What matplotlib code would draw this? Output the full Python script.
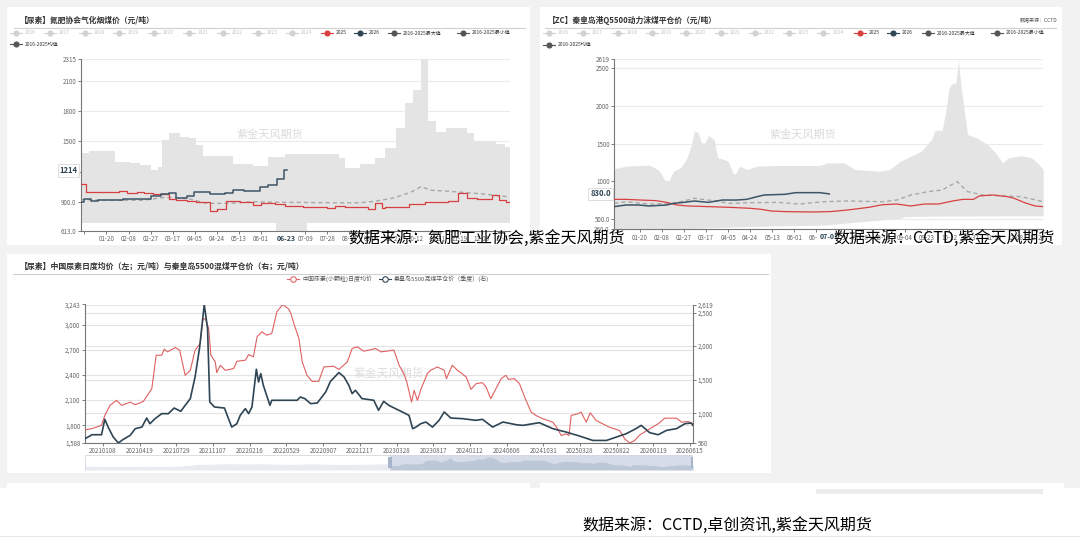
import numpy as np
import matplotlib
matplotlib.use('Agg')
import matplotlib.pyplot as plt
from matplotlib.patches import Rectangle
from matplotlib.lines import Line2D

plt.rcParams['font.family'] = ['Noto Sans CJK SC', 'DejaVu Sans']
plt.rcParams['axes.unicode_minus'] = False

W, H = 1080, 537

# seasonal charts: x is the day index of a leap year (0 = 01-01)
season_tick_pos = [19 * k for k in range(20)]
season_tick_labels = ['', '01-20', '02-08', '02-27', '03-17', '04-05', '04-24', '05-13',
                      '06-01', '06-20', '07-09', '07-28', '08-16', '09-04', '09-23',
                      '10-12', '10-31', '11-19', '12-08', '12-27']
season_years = ['2016', '2017', '2018', '2019', '2020', '2021', '2022', '2023', '2024']

# ---- top left: 氮肥协会气化烟煤价 (step series) ----
tl_band_day = [-3, 4, 26, 39, 48, 57, 63, 67, 73, 82, 90, 96, 102, 128, 145, 158, 165, 173,
               192, 219, 224, 237, 250, 259, 268, 276, 283, 290, 296, 303, 311, 329, 335, 354, 362, 366]
tl_max = [1388, 1408, 1299, 1289, 1266, 1216, 1249, 1514, 1587, 1547, 1531, 1464, 1355, 1276,
          1256, 1342, 1342, 1375, 1375, 1332, 1233, 1276, 1332, 1438, 1630, 1885, 2010, 2315,
          1706, 1597, 1630, 1587, 1507, 1474, 1448, 1448]
tl_min = [693] * 16 + [613, 613] + [693] * 18
tl_avg_day = [-3, 20, 50, 70, 90, 105, 125, 145, 170, 190, 220, 237, 250, 265, 280, 290, 298, 313, 343, 366]
tl_avg = [922, 915, 915, 945, 930, 885, 885, 900, 895, 893, 890, 890, 905, 935, 990, 1051, 1015, 1005, 978, 948]
tl_2025_day = [-3, 1, 30, 37, 45, 51, 59, 73, 79, 88, 96, 108, 114, 122, 134, 145, 152, 164, 173,
               188, 209, 216, 224, 244, 250, 256, 259, 279, 293, 313, 322, 329, 338, 351, 357, 363, 366]
tl_2025 = [1074, 994, 1008, 984, 1001, 984, 974, 928, 918, 908, 895, 812, 828, 911, 898, 868, 891,
           878, 859, 852, 842, 862, 852, 825, 885, 835, 845, 878, 902, 908, 984, 938, 931, 964, 918, 898, 898]
tl_2026_day = [-3, 0, 6, 12, 33, 57, 66, 73, 79, 88, 94, 108, 121, 128, 137, 151, 158, 166, 172, 174]
tl_2026 = [902, 925, 905, 915, 928, 958, 978, 991, 935, 958, 994, 974, 991, 1017, 1008, 1044,
           1067, 1127, 1214, 1214]
tl_yticks = [613, 900, 1200, 1500, 1800, 2100, 2315]
tl_ylabels = ['613.0', '900.0', '', '1500', '1800', '2100', '2315']

# ---- top right: 秦皇岛港Q5500动力沫煤平仓价 ----
tr_band_day = [-3, 7, 27, 32, 36, 41, 44, 48, 54, 59, 63, 66, 69, 72, 75, 78, 83, 86, 90, 95,
               99, 101, 105, 111, 120, 138, 174, 180, 195, 204, 225, 234, 243, 247, 252, 261, 270,
               273, 279, 282, 285, 288, 291, 293, 295, 298, 301, 309, 318, 325, 331, 336, 347, 356, 361, 366]
tr_max = [1163, 1199, 1212, 1177, 1133, 1001, 1001, 1133, 1177, 1287, 1464, 1662, 1649, 1508,
          1508, 1605, 1552, 1309, 1296, 1265, 1111, 1089, 1199, 1155, 1199, 1208, 1208, 1243,
          1243, 1155, 1133, 1155, 1265, 1290, 1331, 1397, 1552, 1675, 1675, 1905, 2235, 2301,
          2301, 2619, 2301, 1949, 1618, 1574, 1486, 1375, 1243, 1309, 1340, 1309, 1243, 1155]
tr_min = [368, 366, 362, 362, 362, 360, 360, 362, 365, 368, 370, 372, 374, 376, 378, 380, 382,
          383, 385, 387, 390, 390, 392, 395, 398, 405, 415, 420, 440, 455, 480, 495, 505, 528,
          530, 532, 535, 535, 536, 536, 537, 537, 537, 537, 537, 537, 537, 538, 538, 538, 539,
          539, 539, 540, 540, 540]
tr_avg_day = [-3, 7, 27, 48, 60, 66, 84, 96, 114, 138, 156, 177, 198, 228, 240, 252, 267, 279,
              292, 301, 314, 332, 347, 366]
tr_avg = [705, 727, 696, 705, 749, 772, 736, 705, 714, 718, 696, 727, 736, 727, 749, 816, 860,
          882, 993, 860, 816, 803, 794, 727]
tr_2025_day = [-3, 7, 18, 33, 42, 51, 60, 78, 96, 114, 123, 132, 144, 168, 183, 198, 216, 228,
               240, 252, 264, 276, 288, 297, 306, 311, 323, 335, 341, 350, 359, 366]
tr_2025 = [758, 758, 750, 741, 718, 683, 670, 661, 652, 639, 626, 603, 595, 590, 595, 617, 652,
           687, 696, 670, 696, 696, 736, 758, 758, 803, 816, 794, 772, 714, 670, 661]
tr_2026_day = [-3, 7, 18, 27, 42, 48, 57, 66, 78, 90, 102, 111, 120, 126, 144, 153, 174, 182]
tr_2026 = [661, 683, 683, 670, 683, 705, 718, 736, 718, 749, 749, 758, 794, 816, 825, 847, 847, 830]
tr_yticks = [360, 500, 1000, 1500, 2000, 2500, 2619]
tr_ylabels = ['360.0', '500.0', '1000', '1500', '2000', '2500', '2619']

# ---- bottom: urea daily price (left) vs QHD 5500 coal (right) ----
# x is the position on the category axis, in units of the date-label spacing
bottom_tick_labels = ['20210108', '20210419', '20210729', '20211107', '20220216', '20220529',
                      '20220907', '20221217', '20230328', '20230817', '20240112', '20240606',
                      '20241031', '20250328', '20250822', '20260119', '20260615']
urea_t = [-0.49, -0.3, -0.1, -0.04, 0.05, 0.19, 0.37, 0.51, 0.74, 0.88, 1.1, 1.33, 1.45, 1.6,
          1.67, 1.76, 1.97, 2.09, 2.24, 2.38, 2.51, 2.65, 2.72, 2.79, 2.88, 2.94, 3.06, 3.1,
          3.2, 3.33, 3.56, 3.65, 3.88, 3.97, 4.1, 4.2, 4.33, 4.46, 4.6, 4.74, 4.9, 5.06, 5.12,
          5.2, 5.34, 5.43, 5.56, 5.7, 5.88, 6.02, 6.29, 6.43, 6.66, 6.79, 6.93, 7.11, 7.43,
          7.57, 7.93, 8.07, 8.2, 8.28, 8.41, 8.48, 8.57, 8.67, 8.84, 8.93, 9.11, 9.3, 9.36,
          9.52, 9.66, 9.9, 10.03, 10.17, 10.34, 10.44, 10.57, 10.71, 10.85, 10.98, 11.05,
          11.21, 11.35, 11.53, 11.67, 11.8, 11.99, 12.26, 12.39, 12.49, 12.62, 12.7, 12.76,
          12.94, 13.03, 13.17, 13.28, 13.44, 13.62, 13.8, 14.08, 14.22, 14.35, 14.49, 14.63,
          14.9, 15.13, 15.31, 15.63, 15.77, 15.95, 16.08]
urea_price = [1745, 1760, 1790, 1800, 1917, 2037, 2097, 2037, 2077, 2045, 2085, 2237, 2637, 2637,
              2709, 2677, 2729, 2697, 2397, 2457, 2697, 2777, 3057, 3077, 2957, 2637, 2557, 2430,
              2517, 2457, 2477, 2565, 2577, 2645, 2617, 2857, 2917, 2877, 2897, 3157, 3243, 3189,
              3137, 3017, 2837, 2557, 2397, 2325, 2325, 2497, 2505, 2467, 2557, 2717, 2737, 2685,
              2717, 2677, 2697, 2517, 2417, 2317, 2077, 2217, 2097, 2237, 2417, 2457, 2497, 2457,
              2357, 2517, 2457, 2377, 2229, 2297, 2309, 2257, 2117, 2237, 2357, 2397, 2349, 2357,
              2297, 2097, 1957, 1917, 1877, 1837, 1757, 1677, 1697, 1677, 1917, 1937, 1957, 1837,
              1949, 1857, 1817, 1777, 1737, 1637, 1588, 1617, 1685, 1757, 1817, 1885, 1885, 1837,
              1845, 1817]
coal_t = [-0.49, -0.3, -0.04, 0.05, 0.14, 0.28, 0.42, 0.55, 0.74, 0.88, 1.06, 1.19, 1.28, 1.42,
          1.6, 1.78, 1.94, 2.12, 2.24, 2.38, 2.51, 2.63, 2.76, 2.85, 2.91, 3.04, 3.31, 3.42,
          3.51, 3.65, 3.74, 3.88, 3.97, 4.06, 4.18, 4.24, 4.3, 4.37, 4.43, 4.55, 4.6, 4.84,
          5.29, 5.38, 5.5, 5.66, 5.84, 6.07, 6.2, 6.43, 6.57, 6.7, 6.79, 6.88, 7.06, 7.38,
          7.51, 7.65, 7.79, 7.97, 8.16, 8.34, 8.44, 8.53, 8.66, 8.8, 8.98, 9.16, 9.3, 9.48,
          9.8, 10.16, 10.34, 10.62, 10.9, 11.26, 11.44, 11.89, 12.26, 12.62, 12.99, 13.35,
          13.72, 13.99, 14.26, 14.49, 14.67, 14.9, 15.13, 15.36, 15.63, 15.86, 16.03, 16.08]
coal_price = [624, 683, 683, 912, 797, 648, 560, 613, 673, 773, 797, 931, 847, 922, 996, 996,
              1080, 1031, 1120, 1220, 1542, 1965, 2619, 2263, 1170, 1095, 1080, 922, 797, 847,
              971, 1071, 996, 1095, 1657, 1467, 1592, 1418, 1318, 1120, 1195, 1195, 1195, 1244,
              1220, 1145, 1155, 1318, 1477, 1607, 1542, 1418, 1294, 1343, 1220, 1195, 1046, 1180,
              1120, 1071, 1021, 971, 773, 797, 847, 872, 797, 897, 1021, 931, 922, 897, 912, 797,
              872, 832, 822, 862, 773, 723, 663, 598, 598, 648, 698, 763, 822, 713, 683, 748, 773,
              847, 857, 822]
urea_ticks = [1588, 1800, 2100, 2400, 2700, 3000, 3243]
coal_ticks = [560, 1000, 1500, 2000, 2500, 2619]
# older urea history shown only as the shadow of the zoom slider
slider_history = [1500, 1450, 1420, 1450, 1480, 1460, 1500, 1800, 1850, 1900, 1870, 1900,
                  1850, 1820, 1880, 1850, 1800, 1820, 1860, 1900]

RED = '#d8403f'
NAVY = '#2f4554'
BAND = '#e4e4e4'
GRID = '#ebebeb'


def px_rect(x0, y0, x1, y1):
    return [x0 / W, 1 - y1 / H, (x1 - x0) / W, (y1 - y0) / H]


fig = plt.figure(figsize=(W / 100, H / 100), dpi=100)
fig.patch.set_facecolor('#f2f2f2')

bg = fig.add_axes([0, 0, 1, 1], zorder=-1)
bg.set_xlim(0, W)
bg.set_ylim(H, 0)
bg.axis('off')
for x0, y0, x1, y1 in [(7, 7, 530, 245), (540, 7, 1062, 245), (7, 254, 771, 473),
                       (0, 488, 1080, 537), (7, 483, 530, 488), (540, 483, 1064, 488)]:
    bg.add_patch(Rectangle((x0, y0), x1 - x0, y1 - y0, facecolor='white', edgecolor='none'))
bg.add_patch(Rectangle((816, 489), 227, 5, facecolor='#d8d8d8', edgecolor='none', alpha=0.45))
bg.add_line(Line2D([0, 1080], [536, 536], color='#e6e6e6', lw=0.8))

# title separators
for x0, x1, y in [(14, 525, 27.7), (545, 1056, 27.7), (13, 768, 274)]:
    bg.add_line(Line2D([x0, x1], [y, y], color='#d0d0d0', lw=0.8))

bg.text(20, 20, '【尿素】氮肥协会气化烟煤价（元/吨）', fontsize=5.6, fontweight='bold',
        color='#333333', va='center')
bg.text(548, 20, '【ZC】秦皇岛港Q5500动力沫煤平仓价（元/吨）', fontsize=5.6, fontweight='bold',
        color='#333333', va='center')
bg.text(1057, 20, '数据来源：CCTD', fontsize=3.6, color='#555555', va='center', ha='right')
bg.text(20, 266, '【尿素】中国尿素日度均价（左；元/吨）与秦皇岛5500混煤平仓价（右；元/吨）',
        fontsize=5.7, fontweight='bold', color='#333333', va='center')


def legend_item(x, y, color, label, text_color, hollow=False, size=3.6, ms=3.6):
    bg.add_line(Line2D([x - 6, x + 6], [y, y], color=color, lw=0.8))
    bg.plot([x], [y], marker='o', ms=ms, mfc='white' if hollow else color, mec=color, mew=0.8)
    bg.text(x + 9, y, label, fontsize=size, color=text_color, va='center', ha='left')


def season_legend(x0, step, x25, x26, xmax, xmin, y1, y2):
    for i, yr in enumerate(season_years):
        legend_item(x0 + step * i, y1, '#d2d2d2', yr, '#c4c4c4')
    legend_item(x25, y1, RED, '2025', '#333333')
    legend_item(x26, y1, NAVY, '2026', '#333333')
    legend_item(xmax, y1, '#555555', '2016-2025最大值', '#333333')
    legend_item(xmin, y1, '#555555', '2016-2025最小值', '#333333')
    legend_item(x0, y2, '#555555', '2016-2025均值', '#333333')


season_legend(15.5, 34.6, 327, 360, 394, 463, 33, 44)
season_legend(549, 34.3, 860, 893, 928, 997, 33, 45)

legend_item(293, 279, '#e06666', '中国尿素(小颗粒)日度均价', '#555555', hollow=True, size=4.3, ms=4)
legend_item(385, 279, NAVY, '秦皇岛5500混煤平仓价（季度）(右)', '#555555', hollow=True, size=4.3, ms=4)


def style_axis(ax):
    ax.set_facecolor('none')
    for s in ['top', 'right']:
        ax.spines[s].set_visible(False)
    for s in ['left', 'bottom']:
        ax.spines[s].set_color('#777777')
        ax.spines[s].set_linewidth(0.8)
    ax.tick_params(labelsize=4.5, colors='#666666', length=2, width=0.6, pad=1.2)


def seasonal(rect, ylim, yticks, ylabels, band_day, band_min, band_max, avg_day, avg,
             d25, v25, d26, v26, step):
    ax = fig.add_axes(rect)
    style_axis(ax)
    ds = 'steps-post' if step else 'default'
    ax.fill_between(band_day, band_min, band_max, step='post' if step else None,
                    color=BAND, lw=0, zorder=1)
    ax.plot(avg_day, avg, color='#a8a8a8', lw=1.0, dashes=(3, 2.2), zorder=2)
    ax.plot(d25, v25, color=RED, lw=0.9, drawstyle=ds, zorder=3)
    ax.plot(d26, v26, color='#3d5566', lw=1.1, drawstyle=ds, zorder=4)
    ax.set_xlim(-3, 366)
    ax.set_ylim(*ylim)
    ax.set_yticks(yticks)
    ax.set_yticklabels(ylabels)
    ax.set_xticks(season_tick_pos)
    ax.set_xticklabels(season_tick_labels)
    for v in yticks:
        ax.axhline(v, color=GRID, lw=0.8, zorder=0)
    ax.text(0.44, 0.56, '紫金天风期货', transform=ax.transAxes, fontsize=8, color='#dadada',
            ha='center', va='center', zorder=0.5)
    return ax


ax1 = seasonal(px_rect(80.9, 59.3, 509.6, 230.7), (613, 2315), tl_yticks, tl_ylabels,
               tl_band_day, tl_min, tl_max, tl_avg_day, tl_avg,
               tl_2025_day, tl_2025, tl_2026_day, tl_2026, True)
ax1.text(-0.008, tl_2026[-1], '%d' % tl_2026[-1], transform=ax1.get_yaxis_transform(),
         ha='right', va='center', fontsize=5.5, fontweight='bold', color=NAVY, zorder=6,
         bbox=dict(boxstyle='square,pad=0.25', fc='white', ec='#d0d0d0', lw=0.5))
ax1.text(tl_2026_day[-1], -0.043, '06-23', transform=ax1.get_xaxis_transform(),
         ha='center', va='center', fontsize=5, fontweight='bold', color=NAVY, zorder=6,
         bbox=dict(boxstyle='square,pad=0.35', fc='white', ec='none'))

ax2 = seasonal(px_rect(614.2, 59.3, 1043.2, 229.3), (360, 2619), tr_yticks, tr_ylabels,
               tr_band_day, tr_min, tr_max, tr_avg_day, tr_avg,
               tr_2025_day, tr_2025, tr_2026_day, tr_2026, False)
ax2.text(-0.008, tr_2026[-1], '%.1f' % tr_2026[-1], transform=ax2.get_yaxis_transform(),
         ha='right', va='center', fontsize=5.5, fontweight='bold', color=NAVY, zorder=6,
         bbox=dict(boxstyle='square,pad=0.25', fc='white', ec='#d0d0d0', lw=0.5))
ax2.text(tr_2026_day[-1], -0.045, '07-01', transform=ax2.get_xaxis_transform(),
         ha='center', va='center', fontsize=5, fontweight='bold', color=NAVY, zorder=6,
         bbox=dict(boxstyle='square,pad=0.35', fc='white', ec='none'))

# ---- bottom dual-axis chart ----
axb = fig.add_axes(px_rect(85, 304.5, 693, 443))
style_axis(axb)
axb.set_xlim(-0.49, 16.08)
axb.set_ylim(urea_ticks[0], urea_ticks[-1])
axb.set_yticks(urea_ticks)
axb.set_yticklabels(['{:,}'.format(v) for v in urea_ticks])
axb.set_xticks(range(len(bottom_tick_labels)))
axb.set_xticklabels(bottom_tick_labels)
for v in urea_ticks:
    axb.axhline(v, color='#e3e3e3', lw=0.8, zorder=0)
for v in coal_ticks:
    f = (v - coal_ticks[0]) / (coal_ticks[-1] - coal_ticks[0])
    axb.plot([0, 1], [f, f], transform=axb.transAxes, color='#e3e3e3', lw=0.8, zorder=0)
axb.plot(urea_t, urea_price, color='#e06060', lw=0.8, zorder=3)
axb.text(0.5, 0.505, '紫金天风期货', transform=axb.transAxes, fontsize=8.5, color='#dedede',
         ha='center', va='center', zorder=1)

axr = axb.twinx()
axr.set_facecolor('none')
for s in ['top', 'left', 'bottom']:
    axr.spines[s].set_visible(False)
axr.spines['right'].set_color('#777777')
axr.spines['right'].set_linewidth(0.8)
axr.tick_params(labelsize=4.5, colors='#666666', length=2, width=0.6, pad=1.2)
axr.set_ylim(coal_ticks[0], coal_ticks[-1])
axr.set_yticks(coal_ticks)
axr.set_yticklabels(['{:,}'.format(v) for v in coal_ticks])
axr.plot(coal_t, coal_price, color=NAVY, lw=1.2, zorder=3)

# data zoom slider
axs = fig.add_axes(px_rect(85, 455, 693, 470))
axs.set_xlim(0, 1)
axs.set_ylim(0, 1)
axs.axis('off')
sel = 0.502


def shadow_y(vals):
    return [(v - 1000) / 2600 for v in vals]


hist_x = np.linspace(0, sel, len(slider_history))
axs.fill_between(hist_x, 0, shadow_y(slider_history), color='#e8ebf0', lw=0)
axs.plot(hist_x, shadow_y(slider_history), color='#dde2e9', lw=0.5)
axs.add_patch(Rectangle((sel, 0), 1 - sel, 1, facecolor='#d6dde8', edgecolor='none', zorder=1))
sel_x = [sel + (t - urea_t[0]) / (urea_t[-1] - urea_t[0]) * (1 - sel) for t in urea_t]
axs.fill_between(sel_x, 0, shadow_y(urea_price), color='#bcc7d7', lw=0, zorder=2)
axs.add_patch(Rectangle((0, 0), 1, 1, fill=False, edgecolor='#d3d9e2', lw=0.6, zorder=3))
for hx in (sel, 1):
    axs.add_patch(Rectangle((hx - 0.003, 0.15), 0.006, 0.7, facecolor='#a6b5c9',
                            edgecolor='none', zorder=4))

# overlaid source captions
fig.text(348 / W, 1 - 238 / H, '数据来源：氮肥工业协会,紫金天风期货', fontsize=11.5,
         color='black', va='center', ha='left')
fig.text(833 / W, 1 - 238 / H, '数据来源：CCTD,紫金天风期货', fontsize=11.5,
         color='black', va='center', ha='left')
fig.text(582 / W, 1 - 525 / H, '数据来源：CCTD,卓创资讯,紫金天风期货', fontsize=11.5,
         color='black', va='center', ha='left')

fig.savefig('out.png', dpi=100, facecolor=fig.get_facecolor())
